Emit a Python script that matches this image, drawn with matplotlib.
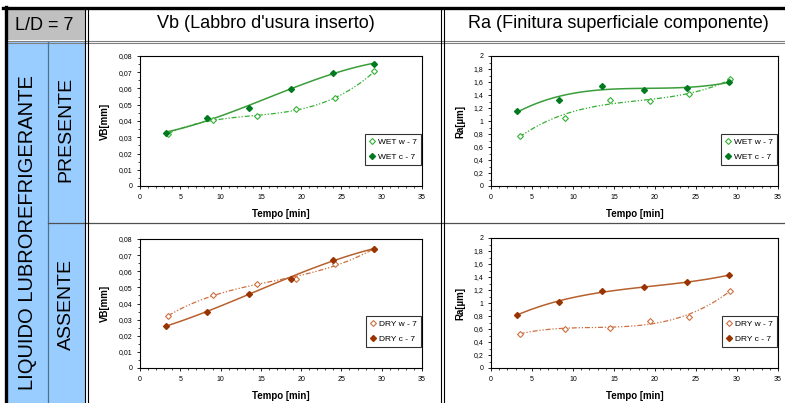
import numpy as np
import matplotlib
matplotlib.use("Agg")
import matplotlib.pyplot as plt
from matplotlib.lines import Line2D
from matplotlib.patches import Rectangle
from matplotlib.ticker import MultipleLocator, FuncFormatter

plt.rcParams['font.family'] = ['Liberation Sans', 'DejaVu Sans']

W, H = 785, 403

# data
x_c = [3.2, 8.3, 13.5, 18.7, 23.9, 29.0]
x_w = [3.5, 9.0, 14.5, 19.4, 24.2, 29.1]

vb_wet_c = [0.0327, 0.0417, 0.0481, 0.0597, 0.0698, 0.0752]
vb_wet_w = [0.0322, 0.0407, 0.0428, 0.0473, 0.0541, 0.0705]
ra_wet_c = [1.15, 1.33, 1.54, 1.48, 1.51, 1.60]
ra_wet_w = [0.77, 1.05, 1.33, 1.31, 1.41, 1.64]

vb_dry_c = [0.0259, 0.0350, 0.0462, 0.0555, 0.0670, 0.0738]
vb_dry_w = [0.0323, 0.0452, 0.0520, 0.0555, 0.0648, 0.0738]
ra_dry_c = [0.82, 1.02, 1.18, 1.24, 1.32, 1.43]
ra_dry_w = [0.53, 0.60, 0.62, 0.72, 0.79, 1.19]

col_titles = ["Vb (Labbro d'usura inserto)", "Ra (Finitura superficiale componente)"]
row_titles = ["PRESENTE", "ASSENTE"]

green = dict(mk='#007a1f', line='#3a9d3a', open='#33b033', name='WET')
brown = dict(mk='#993300', line='#b8602e', open='#cc7040', name='DRY')


def fx(x):
    return x / W


def fy(y):
    return 1 - y / H


def axbox(x0, y0, x1, y1):
    return [fx(x0), fy(y1), (x1 - x0) / W, (y1 - y0) / H]


def comma(v, pos):
    if abs(v) < 1e-9:
        return '0'
    s = ('%.2f' % v).rstrip('0').rstrip('.')
    return s.replace('.', ',')


def panel(rect, yc, yw, col, kind):
    ax = fig.add_axes(rect)
    ax.plot(x_w, yw, 'D', ms=3.0, mfc='white', mec=col['open'], mew=0.8,
            label=col['name'] + ' w - 7', zorder=3)
    ax.plot(x_c, yc, 'D', ms=3.0, mfc=col['mk'], mec=col['mk'],
            label=col['name'] + ' c - 7', zorder=3)
    # polynomial trendlines like the spreadsheet
    xs = np.linspace(min(x_w), max(x_w), 100)
    ax.plot(xs, np.polyval(np.polyfit(x_w, yw, 3), xs), color=col['open'],
            lw=0.9, dashes=(4, 1.5, 1, 1.5, 1, 1.5), zorder=2)
    xs = np.linspace(min(x_c), max(x_c), 100)
    ax.plot(xs, np.polyval(np.polyfit(x_c, yc, 3), xs), color=col['line'],
            lw=1.1, zorder=2)
    ax.set_xlim(0, 35)
    ax.xaxis.set_major_locator(MultipleLocator(5))
    ax.xaxis.set_minor_locator(MultipleLocator(1))
    if kind == 'vb':
        ax.set_ylim(0, 0.08)
        ax.yaxis.set_major_locator(MultipleLocator(0.01))
        ax.yaxis.set_minor_locator(MultipleLocator(0.005))
        ax.set_ylabel('VB[mm]', fontsize=7, fontweight='bold', labelpad=6)
    else:
        ax.set_ylim(0, 2)
        ax.yaxis.set_major_locator(MultipleLocator(0.2))
        ax.yaxis.set_minor_locator(MultipleLocator(0.1))
        ax.set_ylabel('Ra[\u00b5m]', fontsize=7, fontweight='bold', labelpad=6)
    ax.yaxis.set_major_formatter(FuncFormatter(comma))
    ax.set_xlabel('Tempo [min]', fontsize=7, fontweight='bold', labelpad=6)
    ax.tick_params(which='major', direction='out', length=2.5, width=0.6,
                   labelsize=5, pad=3)
    ax.tick_params(which='minor', direction='out', length=1.5, width=0.5)
    for s in ax.spines.values():
        s.set_linewidth(0.8)
    leg = ax.legend(loc='lower right', bbox_to_anchor=(0.995, 0.16),
                    fontsize=6, frameon=True, fancybox=False, handlelength=0.6,
                    handletextpad=0.4, borderpad=0.5, labelspacing=0.9,
                    borderaxespad=0)
    leg.get_frame().set_edgecolor('black')
    leg.get_frame().set_linewidth(0.8)
    return ax


fig = plt.figure(figsize=(W / 100, H / 100), dpi=100)

# table background cells
fig.add_artist(Rectangle((fx(8), fy(40)), fx(77), 30 / H, transform=fig.transFigure,
                         facecolor='#c0c0c0', edgecolor='none'))
fig.add_artist(Rectangle((fx(8), 0), fx(77), fy(42), transform=fig.transFigure,
                         facecolor='#99ccff', edgecolor='none'))


def hline(y, x0, x1, color, lw):
    fig.add_artist(Line2D([fx(x0), fx(x1)], [fy(y), fy(y)], color=color, lw=lw,
                          transform=fig.transFigure))


def vline(x, y0, y1, color, lw):
    fig.add_artist(Line2D([fx(x), fx(x)], [fy(y0), fy(y1)], color=color, lw=lw,
                          transform=fig.transFigure))


hline(8, 3, 785, 'black', 2.4)
vline(5.5, 7, 403, 'black', 2.4)
hline(40.5, 8, 785, '#808080', 0.8)
hline(42.5, 8, 785, '#808080', 0.8)
vline(48, 42, 403, '#50708f', 0.9)
hline(223, 48, 785, '#505050', 0.9)
for xv in (85, 87.5, 441, 443.5):
    vline(xv, 8, 403, 'black', 0.8)

fig.text(fx(44), fy(25), 'L/D = 7', fontsize=13, ha='center', va='center')
fig.text(fx(266), fy(24), col_titles[0], fontsize=13, ha='center', va='center')
fig.text(fx(618), fy(24), col_titles[1], fontsize=13, ha='center', va='center')
fig.text(fx(28), fy(233), 'LIQUIDO LUBROREFRIGERANTE', fontsize=14.5, rotation=90,
         ha='center', va='center')
fig.text(fx(66), fy(129), row_titles[0], fontsize=14, rotation=90,
         ha='center', va='center')
fig.text(fx(66), fy(305), row_titles[1], fontsize=14, rotation=90,
         ha='center', va='center')

panel(axbox(140, 56, 422, 186), vb_wet_c, vb_wet_w, green, 'vb')
panel(axbox(491, 56, 778, 186), ra_wet_c, ra_wet_w, green, 'ra')
panel(axbox(140, 239, 422, 368), vb_dry_c, vb_dry_w, brown, 'vb')
panel(axbox(491, 238, 778, 368), ra_dry_c, ra_dry_w, brown, 'ra')

fig.savefig('out.png', dpi=100)
